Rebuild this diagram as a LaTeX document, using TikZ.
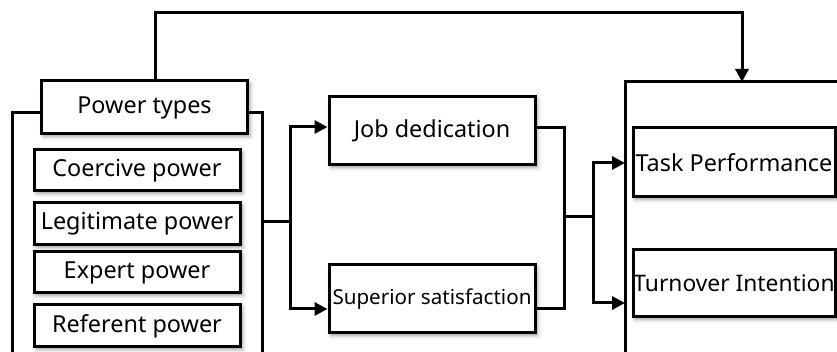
\documentclass[tikz,border=0pt]{standalone}
\usepackage{fontspec}
\setmainfont{Noto Sans}
\usetikzlibrary{arrows.meta,shadows.blur}

\begin{document}
\begin{tikzpicture}[x=0.5pt,y=-0.5pt,
  box/.style={rectangle,draw,line width=1.5pt,fill=white,inner sep=0pt,
    minimum width=103pt,font=\fontsize{11.7}{13}\selectfont,
    blur shadow={shadow xshift=1.2pt,shadow yshift=-1.2pt,shadow blur steps=4,shadow opacity=40}},
  link/.style={line width=1.5pt},
  arr/.style={link,-{Triangle[length=6.5pt,width=6.5pt]}}]

\useasboundingbox (0,0) rectangle (837,352);

% frames (cut at the bottom)
\draw[link] (12,352) -- (12,113) -- (262,113) -- (262,352);
\draw[link] (625,352) -- (625,82) -- (837,82);

\node [box,minimum height=26.5pt] (types) at (144.5,107.5) {Power types};
\node [box,minimum height=20.5pt] (coer) at (137,170.5) {Coercive power};
\node [box,minimum height=21pt] (legit) at (137,224) {Legitimate power};
\node [box,minimum height=20.5pt] (expert) at (137,272.5) {Expert power};
\node [box,minimum height=21pt] (refer) at (137,326) {Referent power};

\node [box,minimum height=34pt] (job) at (432,131) {Job dedication};
\node [box,minimum height=34pt,font=\fontsize{10.3}{12}\selectfont] (sup) at (432,299) {Superior satisfaction};

\node [box,minimum width=101pt,minimum height=34.5pt] (task) at (734,162.5) {Task Performance};
\node [box,minimum width=101pt,minimum height=33.5pt,font=\fontsize{11.4}{13}\selectfont] (turn) at (734,283.5) {Turnover Intention};

\coordinate (lf) at (262,222);
\coordinate (b1) at (290,222);
\coordinate (m1) at (564,217);
\coordinate (b2) at (593,217);
\coordinate (in1) at (625,163);
\coordinate (in2) at (625,303);
\coordinate (top) at (742,13);
\coordinate (rtop) at (742,82);

\draw[link] (lf) -- (b1);
\draw[arr] (b1) |- ([yshift=2pt]job.west);
\draw[arr] (b1) |- ([yshift=-5pt]sup.west);

\draw[link] ([yshift=1.5pt]job.east) -| (m1) |- ([yshift=-5pt]sup.east);
\draw[link] (m1) -- (b2);
\draw[arr] (b2) |- (in1);
\draw[arr] (b2) |- (in2);

\draw[arr] ([xshift=5.25pt]types.north) |- (top) -- (rtop);

\end{tikzpicture}
\end{document}
